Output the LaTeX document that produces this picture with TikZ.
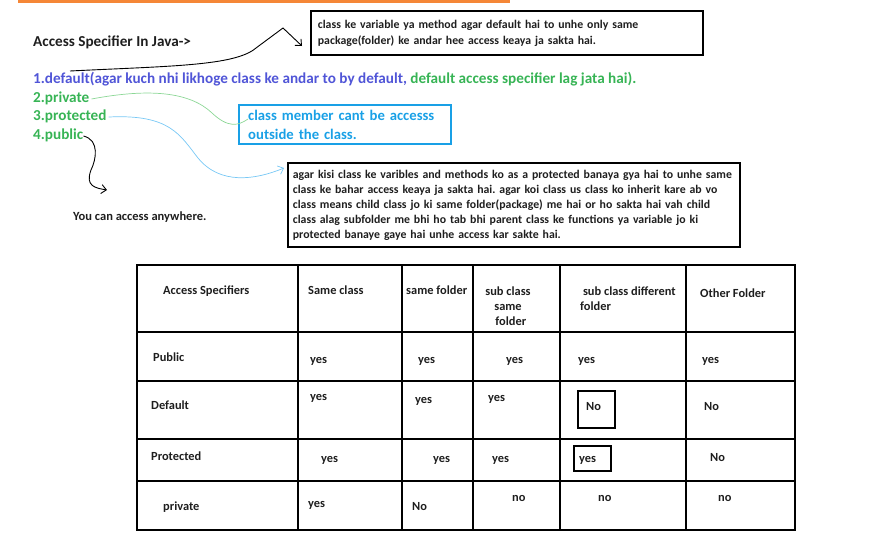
\documentclass[tikz,border=0pt]{standalone}
\usepackage{fontspec}
\setmainfont{Carlito}
\usetikzlibrary{arrows.meta}
\frenchspacing
\definecolor{txtblue}{RGB}{80,85,215}
\definecolor{txtgreen}{RGB}{55,180,85}
\definecolor{boxcyan}{RGB}{25,160,230}
\definecolor{orng}{RGB}{245,135,55}
\definecolor{lgreen}{RGB}{140,215,150}
\definecolor{lblue}{RGB}{120,200,245}
\definecolor{dark}{RGB}{30,30,30}
\begin{document}
\begin{tikzpicture}[x=1pt,y=-1pt,
  lbl/.style={anchor=west, inner sep=0pt, text=dark, font=\fontsize{12.4}{14}\selectfont\bfseries, text height=8.5pt, text depth=2.5pt},
  mlbl/.style={inner sep=0pt, text=dark, font=\fontsize{12.4}{15}\selectfont\bfseries},
  big/.style={anchor=west, inner sep=0pt, font=\fontsize{15.2}{17}\selectfont\bfseries, text height=11pt, text depth=3.5pt},
  tline/.style={line width=1.8pt, black},
  notebox/.style={draw=black, line width=1.8pt, anchor=north west, align=left, inner ysep=0pt, text=dark},
  curvy/.style={line width=0.9pt},
  barb/.style={-{Straight Barb[length=5pt,width=9pt]}}
]
\useasboundingbox (0,0) rectangle (891,547);
% orange strip
\fill[orng] (18,0) rectangle (510,3);

% title and list
\node[big, text=dark, font=\fontsize{15.2}{17}\selectfont\bfseries] (title) at (33,43) {Access Specifier In Java->};
\node[big] (l1) at (33,80) {\textcolor{txtblue}{1.default(agar kuch nhi likhoge class ke andar to by default, }\textcolor{txtgreen}{default access specifier lag jata hai).}};
\node[big, text=txtgreen] (priv) at (33,99) {2.private};
\node[big, text=txtgreen] (prot) at (33,117) {3.protected};
\node[big, text=txtgreen] (pub) at (33,136) {4.public};
\node[lbl, font=\fontsize{12.5}{14}\selectfont\bfseries] (anyw) at (73,217) {You can access anywhere.};

% note boxes
\node[notebox, text width=378pt, inner xsep=7pt, minimum height=44pt, font=\fontsize{11.8}{16}\selectfont\bfseries] (box1) at (310,10)
  {class ke variable ya method agar default hai to unhe only same\\package(folder) ke andar hee access keaya ja sakta hai.};
\node[notebox, draw=boxcyan, line width=2.4pt, text=boxcyan, text width=194pt, inner xsep=9pt, minimum height=39pt, font=\fontsize{14.7}{19}\selectfont\bfseries] (box2) at (238,104)
  {class member cant be accesss\\outside the class.};
\node[notebox, text width=442pt, inner xsep=5pt, minimum height=84pt, font=\fontsize{11.8}{15}\selectfont\bfseries] (box3) at (287,162)
  {agar kisi class ke varibles and methods ko as a protected banaya gya hai to unhe same\\class ke bahar access keaya ja sakta hai. agar koi class us class ko inherit kare ab vo\\class means child class jo ki same folder(package) me hai or ho sakta hai vah child\\class alag subfolder me bhi ho tab bhi parent class ke functions ya variable jo ki\\protected banaye gaye hai unhe access kar sakte hai.};

% connectors
\coordinate (c1) at (70,71);
\coordinate (e1) at (302,46);
\coordinate (e2) at (248,119);
\coordinate (e3) at (284,168);
\coordinate (e4) at (107,190);
\draw[curvy, black, barb] (c1) .. controls (170,66) and (235,66) .. (256,48) -- (283,28) -- (e1);
\draw[curvy, lgreen, line width=0.7pt] ([xshift=2pt]priv.east) .. controls (150,88) and (190,92) .. (212,113) .. controls (228,128) and (238,126) .. (e2);
\draw[curvy, lblue, line width=0.7pt, barb] ([xshift=2pt]prot.east) .. controls (170,114) and (180,135) .. (198,158) .. controls (220,185) and (255,180) .. (e3);
\draw[curvy, black, barb] (pub.east) .. controls (100,140) and (96,160) .. (91,170) .. controls (85,186) and (95,188) .. (e4);

% table grid
\draw[tline] (137,265) rectangle (795,530);
\foreach \yy in {332,381,439,481} \draw[tline] (137,\yy) -- (795,\yy);
\foreach \xx in {298,402,473,560,686} \draw[tline] (\xx,265) -- (\xx,530);

% header
\node[lbl] (h1) at (163,291) {Access Specifiers};
\node[lbl] (h2) at (308,291) {Same class};
\node[lbl] (h3) at (406,291) {same folder};
\node[mlbl, align=center] (h4) at (508,306) {sub class\\same\\\ \ folder};
\node[mlbl, anchor=west, align=left] (h5) at (580,298.5) {\ sub class different\\folder};
\node[lbl] (h6) at (700,294) {Other Folder};

% public row
\node[lbl] (r1c0) at (153,358) {Public};
\node[lbl] (r1c1) at (310,360) {yes};
\node[lbl] (r1c2) at (418,360) {yes};
\node[lbl] (r1c3) at (506,360) {yes};
\node[lbl] (r1c4) at (578,360) {yes};
\node[lbl] (r1c5) at (702,360) {yes};
% default row
\node[lbl] (r2c0) at (151,406) {Default};
\node[lbl] (r2c1) at (310,397) {yes};
\node[lbl] (r2c2) at (415,400) {yes};
\node[lbl] (r2c3) at (488,398) {yes};
\node[lbl] (r2c4) at (586,407) {No};
\draw[tline] (578,391) rectangle (615,428);
\node[lbl] (r2c5) at (704,407) {No};
% protected row
\node[lbl] (r3c0) at (151,457) {Protected};
\node[lbl] (r3c1) at (321,459) {yes};
\node[lbl] (r3c2) at (433,459) {yes};
\node[lbl] (r3c3) at (492,459) {yes};
\node[lbl] (r3c4) at (579,459) {yes};
\draw[tline] (574,446) rectangle (611,471);
\node[lbl] (r3c5) at (710,458) {No};
% private row
\node[lbl] (r4c0) at (163,507) {private};
\node[lbl] (r4c1) at (308,504) {yes};
\node[lbl] (r4c2) at (412,507) {No};
\node[lbl] (r4c3) at (512,498) {no};
\node[lbl] (r4c4) at (598,498) {no};
\node[lbl] (r4c5) at (718,498) {no};
\end{tikzpicture}
\end{document}
